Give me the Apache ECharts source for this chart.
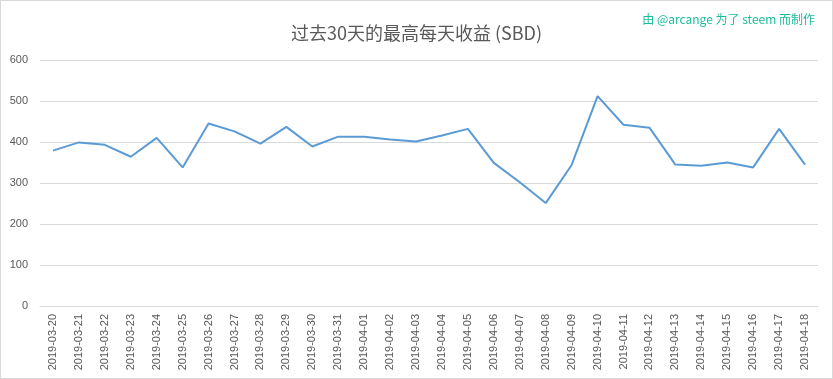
<!DOCTYPE html>
<html>
<head>
<meta charset="utf-8">
<script src="https://cdn.jsdelivr.net/npm/echarts@6/dist/echarts.min.js"></script>
<style>
html,body{margin:0;padding:0;background:#fff;}
#c{width:833px;height:379px;box-sizing:border-box;border:1px solid #d9d9d9;}
</style>
</head>
<body>
<div id="c"></div>
<script>
const categories = ["2019-03-20","2019-03-21","2019-03-22","2019-03-23","2019-03-24","2019-03-25","2019-03-26","2019-03-27","2019-03-28","2019-03-29","2019-03-30","2019-03-31","2019-04-01","2019-04-02","2019-04-03","2019-04-04","2019-04-05","2019-04-06","2019-04-07","2019-04-08","2019-04-09","2019-04-10","2019-04-11","2019-04-12","2019-04-13","2019-04-14","2019-04-15","2019-04-16","2019-04-17","2019-04-18"];
const values = [379,399,393,364,410,338,445,426,396,437,389,413,413,406,401,416,432,349,302,251,344,512,442,435,345,342,350,338,432,345];
const titleText = "过去30天的最高每天收益 (SBD)";
const creditText = "由 @arcange 为了 steem 而制作";

const chart = echarts.init(document.getElementById('c'), null, {renderer:'canvas'});
chart.setOption({
  animation:false,
  backgroundColor:'#fff',
  title:[{
    text:titleText,
    left:'center', top:18,
    textStyle:{color:'#595959',fontSize:18,fontWeight:'normal',fontFamily:'"Noto Sans CJK SC", "Liberation Sans", sans-serif'}
  },{
    text:creditText,
    right:12, top:7,
    textStyle:{color:'#1abc9c',fontSize:12,fontWeight:'normal',fontFamily:'"Noto Sans CJK SC", "Liberation Sans", sans-serif'}
  }],
  grid:{left:39,right:14,top:59,bottom:72,containLabel:false},
  xAxis:{
    type:'category',
    data:categories,
    boundaryGap:true,
    axisLine:{show:true,lineStyle:{color:'#d9d9d9',width:1}},
    axisTick:{show:false},
    axisLabel:{rotate:90,interval:0,color:'#595959',fontSize:11,margin:8,fontFamily:'"Liberation Sans", sans-serif'}
  },
  yAxis:{
    type:'value',
    min:0,max:600,interval:100,
    axisLine:{show:false},
    axisTick:{show:false},
    splitLine:{lineStyle:{color:'#d9d9d9',width:1}},
    axisLabel:{color:'#595959',fontSize:11,margin:12,fontFamily:'"Liberation Sans", sans-serif'}
  },
  series:[{
    type:'line',
    data:values,
    showSymbol:false,
    symbol:'none',
    lineStyle:{color:'#5b9bd5',width:2},
    itemStyle:{color:'#5b9bd5'}
  }]
});
</script>
</body>
</html>
